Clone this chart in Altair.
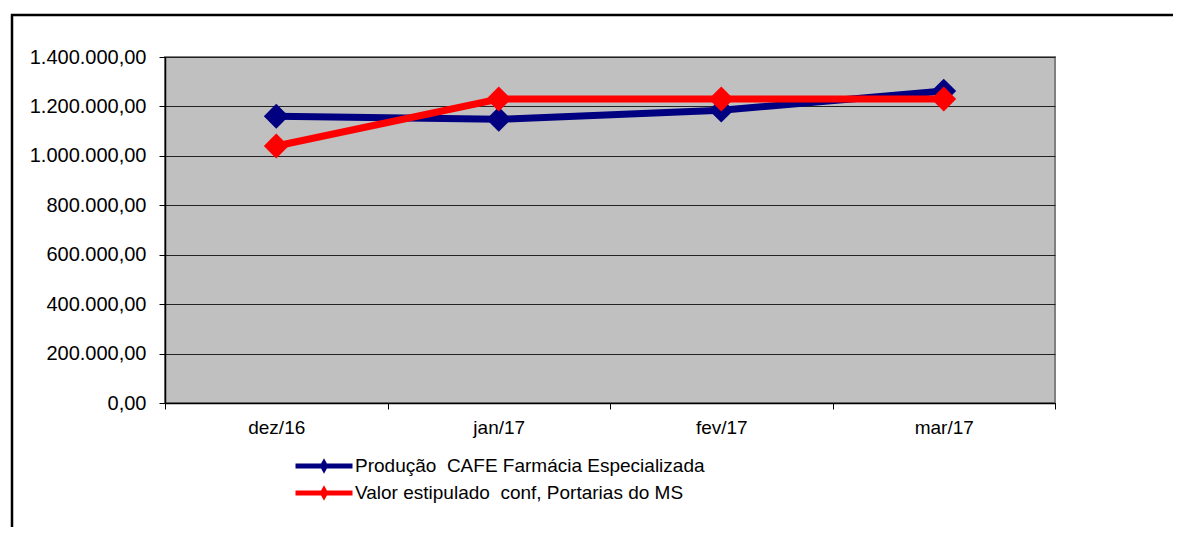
import altair as alt
import pandas as pd

months = ["dez/16", "jan/17", "fev/17", "mar/17"]
producao = [1160000, 1148000, 1185000, 1262000]
valor = [1040000, 1230000, 1230000, 1230000]
series_names = [
    "Produção\u00a0 CAFE Farmácia Especializada",
    "Valor estipulado\u00a0 conf, Portarias do MS",
]
series_colors = ["#000080", "#FF0000"]
y_ticks = [0, 200000, 400000, 600000, 800000, 1000000, 1200000, 1400000]

rows = []
for s, vals in zip(series_names, [producao, valor]):
    for m, v in zip(months, vals):
        rows.append({"mes": m, "serie": s, "valor": v})
df = pd.DataFrame(rows)

FONT = "Liberation Sans"

x_enc = alt.X(
    "mes:N",
    sort=months,
    bandPosition=0.5,
    scale=alt.Scale(type="band", paddingInner=0, paddingOuter=0),
    axis=alt.Axis(
        title=None,
        tickBand="extent",
        grid=False,
        domainColor="#000000",
        domainWidth=1.5,
        tickColor="#000000",
        tickSize=6,
        tickWidth=1,
        labelFont=FONT,
        labelFontSize=19,
        labelColor="#000000",
        labelPadding=9,
        labelAngle=0,
    ),
)
y_enc = alt.Y(
    "valor:Q",
    scale=alt.Scale(domain=[0, 1400000], nice=False, zero=True),
    axis=alt.Axis(
        title=None,
        values=y_ticks,
        format=",.2f",
        grid=True,
        gridColor="#222222",
        gridWidth=1,
        domainColor="#000000",
        domainWidth=1.5,
        tickColor="#000000",
        tickSize=6,
        tickWidth=1,
        labelFont=FONT,
        labelFontSize=20,
        labelColor="#000000",
        labelPadding=13,
    ),
)
color_enc = alt.Color(
    "serie:N",
    scale=alt.Scale(domain=series_names, range=series_colors),
    legend=alt.Legend(
        title=None,
        orient="none",
        legendX=128,
        legendY=399,
        direction="vertical",
        symbolType="M-1,0L1,0M-0.05,0L0,-0.09L0.05,0L0,0.09Z",
        symbolSize=3249,
        symbolStrokeWidth=5,
        labelFont=FONT,
        labelFontSize=19,
        labelColor="#000000",
        labelOffset=0,
        labelLimit=0,
        clipHeight=20,
        rowPadding=7,
        padding=0,
    ),
)

base = alt.Chart(df)
layers = []
for s in series_names:
    layers.append(
        base.transform_filter(alt.datum.serie == s)
        .mark_line(
            strokeWidth=7,
            point=alt.OverlayMarkDef(shape="diamond", size=620, filled=True, opacity=1),
        )
        .encode(x=x_enc, y=y_enc, color=color_enc)
    )

frame_data = alt.Data(values=[{"k": 1}])
top_rule = alt.Chart(frame_data).mark_rule(color="#000000", strokeWidth=2.5).encode(
    x=alt.value(-154), x2=alt.value(1020), y=alt.value(-42)
)
left_rule = alt.Chart(frame_data).mark_rule(color="#000000", strokeWidth=2.5).encode(
    x=alt.value(-153), y=alt.value(-43), y2=alt.value(500)
)

chart = (
    alt.layer(*layers, top_rule, left_rule)
    .properties(
        width=890,
        height=346,
        autosize=alt.AutoSizeParams(type="none"),
        padding={"left": 157, "top": 49, "right": 118, "bottom": 124},
    )
    .configure(
        background="#FFFFFF",
        locale={
            "number": {
                "decimal": ",",
                "thousands": ".",
                "grouping": [3],
                "currency": ["R$", ""],
            }
        },
    )
    .configure_view(fill="#C0C0C0", stroke="#808080", strokeWidth=2)
)

chart.save("out.html", embed_options={"renderer": "svg", "actions": False})
